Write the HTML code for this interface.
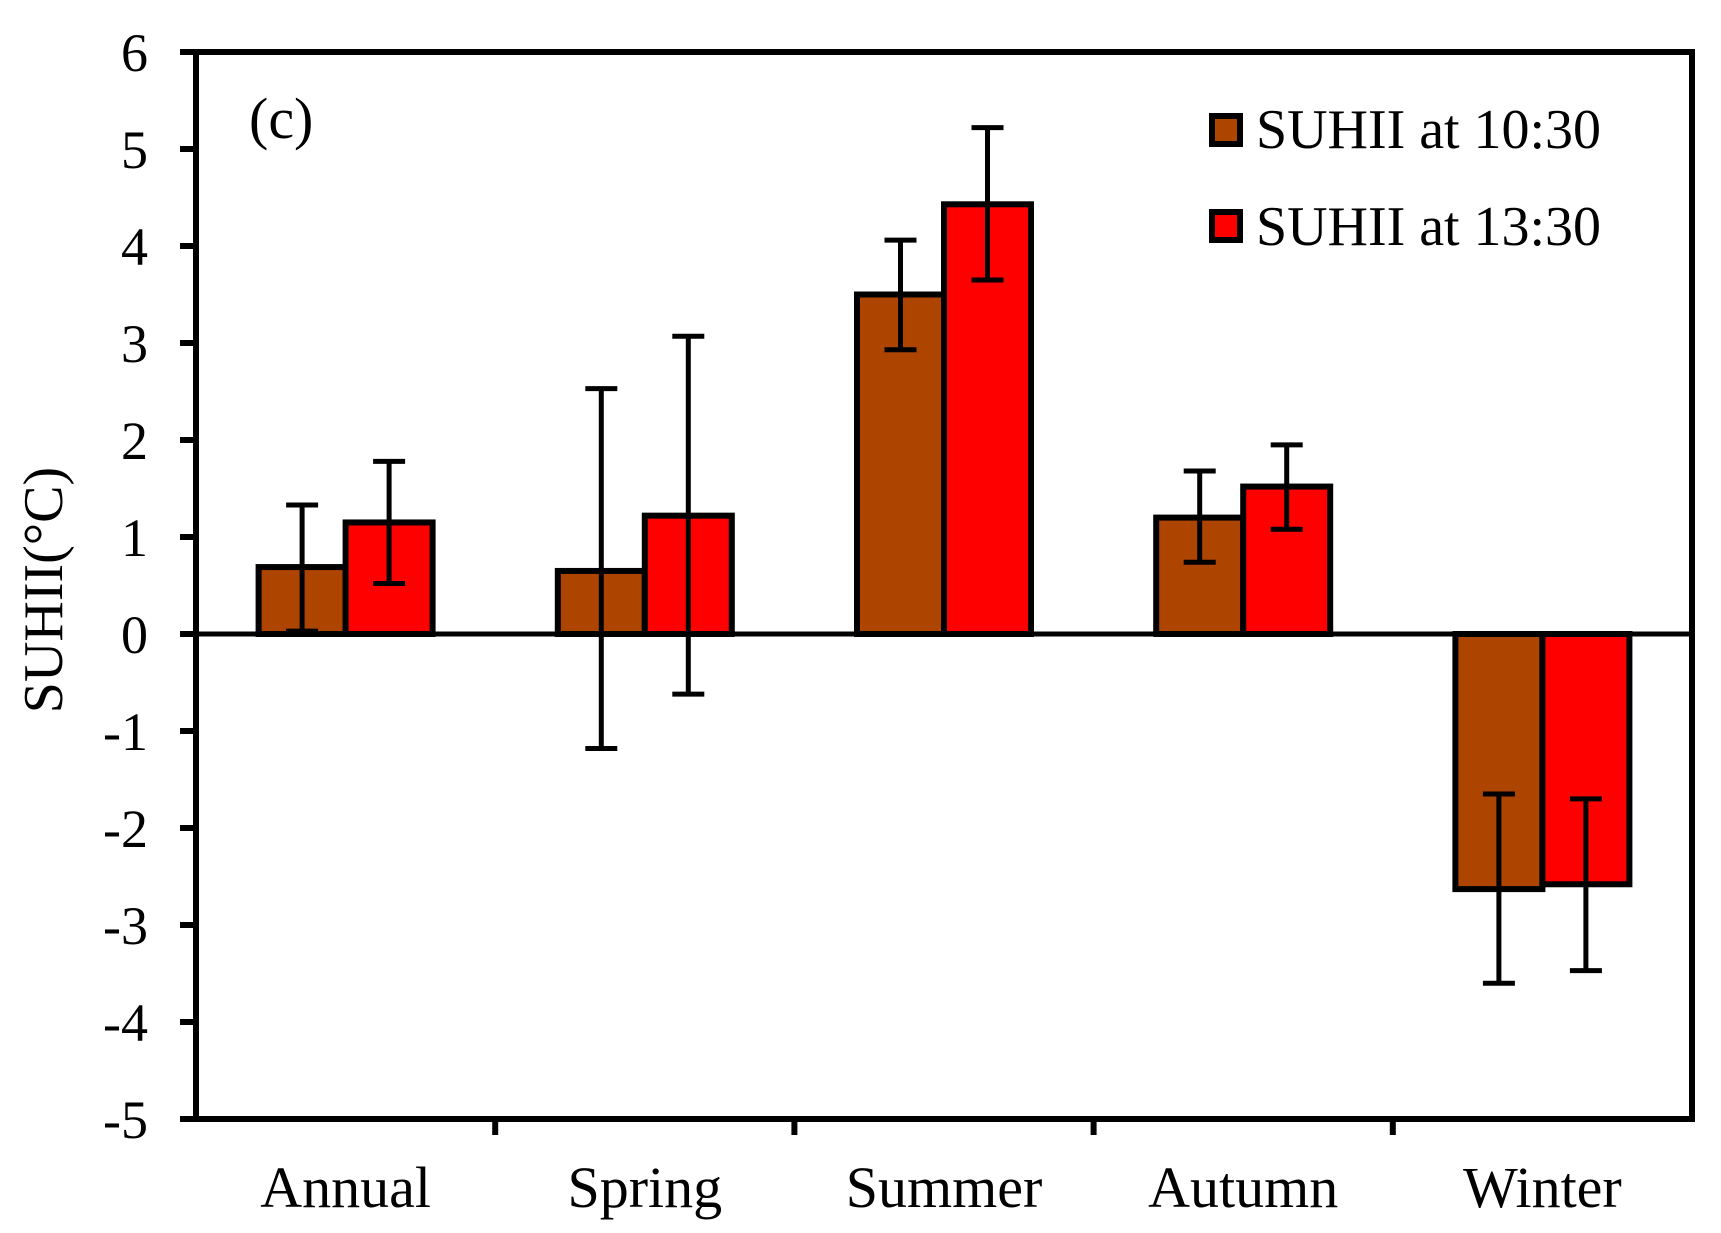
<!DOCTYPE html>
<html><head><meta charset="utf-8"><style>
html,body{margin:0;padding:0;background:#fff;}
svg{display:block;}
text{font-family:"Liberation Serif",serif;fill:#000;}
</style></head><body>
<svg id="chart" width="1721" height="1233" viewBox="0 0 1721 1233" xmlns="http://www.w3.org/2000/svg">
<g id="bars"></g>
<g id="axes"></g>
<text x="249" y="138" font-size="58">(c)</text>
<g>
  <rect x="1212" y="116" width="28" height="28" fill="#AD4500" stroke="#000" stroke-width="6"/>
  <text x="1256" y="148" font-size="56" textLength="345">SUHII at 10:30</text>
  <rect x="1212" y="212" width="28" height="28" fill="#FF0000" stroke="#000" stroke-width="6"/>
  <text x="1256" y="245" font-size="56" textLength="345">SUHII at 13:30</text>
</g>
<text transform="translate(62,590) rotate(-90)" text-anchor="middle" font-size="56">SUHII(°C)</text>
</svg>
<script>
const categories = ["Annual","Spring","Summer","Autumn","Winter"];
const am = [0.69, 0.65, 3.5, 1.2, -2.63];
const pm = [1.15, 1.22, 4.43, 1.52, -2.58];
const amHigh = [1.33, 2.53, 4.06, 1.68, -1.65];
const amLow = [0.03, -1.18, 2.93, 0.74, -3.6];
const pmHigh = [1.78, 3.07, 5.22, 1.95, -1.7];
const pmLow = [0.52, -0.62, 3.65, 1.08, -3.47];
const yTicks = [6,5,4,3,2,1,0,-1,-2,-3,-4,-5];

const NS = "http://www.w3.org/2000/svg";
const L = 196, R = 1692, T = 52, B = 1119;
const yMin = -5, yMax = 6;
const y = v => T + (yMax - v) / (yMax - yMin) * (B - T);
const band = (R - L) / categories.length;
const xc = i => L + band * (i + 0.5);
const bw = 87;

function mk(tag, attrs, parent) {
  const e = document.createElementNS(NS, tag);
  for (const k in attrs) e.setAttribute(k, attrs[k]);
  parent.appendChild(e);
  return e;
}
const gB = document.getElementById('bars');
const gA = document.getElementById('axes');

function bar(i, v, off, color, name) {
  const y0 = y(0), yv = y(v);
  const r = mk('rect', {x: xc(i) + off, y: Math.min(y0, yv), width: bw, height: Math.abs(y0 - yv), fill: color, stroke: '#000', 'stroke-width': 6}, gB);
  
  
}
function err(i, hi, lo, off, name) {
  const cx = xc(i) + off + bw / 2;
  const g = mk('g', {stroke: '#000', 'stroke-width': 5}, gB);
  
  
  mk('line', {x1: cx, x2: cx, y1: y(hi), y2: y(lo)}, g);
  mk('line', {x1: cx - 16, x2: cx + 16, y1: y(hi), y2: y(hi)}, g);
  mk('line', {x1: cx - 16, x2: cx + 16, y1: y(lo), y2: y(lo)}, g);
}
categories.forEach((c, i) => {
  bar(i, am[i], -bw, '#AD4500', 'bar-1030-' + c.toLowerCase());
  bar(i, pm[i], 0, '#FF0000', 'bar-1330-' + c.toLowerCase());
});
categories.forEach((c, i) => {
  err(i, amHigh[i], amLow[i], -bw, 'error-bar-1030-' + c.toLowerCase());
  err(i, pmHigh[i], pmLow[i], 0, 'error-bar-1330-' + c.toLowerCase());
});

const z = mk('line', {x1: L, x2: R, y1: y(0), y2: y(0), stroke: '#000', 'stroke-width': 5}, gA);


const f = mk('rect', {x: L, y: T, width: R - L, height: B - T, fill: 'none', stroke: '#000', 'stroke-width': 6}, gA);



yTicks.forEach(v => {
  const t = mk('line', {x1: L - 16, x2: L, y1: y(v), y2: y(v), stroke: '#000', 'stroke-width': 6}, gA);
  
  
  const lb = mk('text', {x: 148, y: y(v) + 19, 'text-anchor': 'end', 'font-size': 54}, gA);
  lb.textContent = String(v);
  
  
});
for (let i = 1; i < categories.length; i++) {
  const xx = L + band * i;
  const t = mk('line', {x1: xx, x2: xx, y1: B, y2: B + 16, stroke: '#000', 'stroke-width': 6}, gA);
  
  
}
categories.forEach((c, i) => {
  const lb = mk('text', {x: xc(i), y: 1207, 'text-anchor': 'middle', 'font-size': 58}, gA);
  lb.textContent = c;
  
  
});
</script>
</body></html>
